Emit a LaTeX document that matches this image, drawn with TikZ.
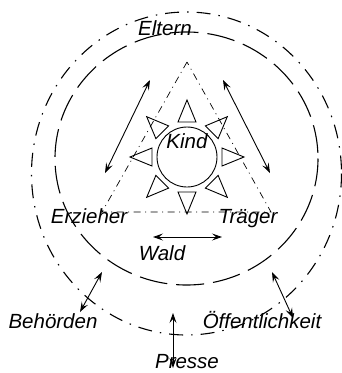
\documentclass[tikz,border=0pt]{standalone}
\usepackage{fontspec}
\setmainfont{Liberation Sans}
\usetikzlibrary{arrows.meta,calc}
\tikzset{
  lbl/.style={
    font=\fontsize{20.5}{24}\selectfont\itshape,
    inner sep=0pt,
    anchor=base
  },
  outerring/.style={line width=1.1pt,dash pattern=on 14pt off 8pt on 1.5pt off 8pt},
  innerring/.style={line width=1.1pt,dash pattern=on 28pt off 9pt},
  triline/.style={line width=0.7pt,dash pattern=on 7pt off 4.5pt on 1pt off 4.5pt},
  sun/.style={draw,circle,minimum size=60pt,inner sep=0pt,line width=0.9pt},
  ray/.style={line width=0.9pt,line join=miter},
  rel/.style={{Stealth[length=10pt,width=7pt,inset=4pt]}-{Stealth[length=10pt,width=7pt,inset=4pt]},line width=0.9pt}
}

\begin{document}
\begin{tikzpicture}[x=1pt,y=-1pt]
  \useasboundingbox (0,0) rectangle (342,373);
  % rings
  \draw[outerring] (186.5,173.5) ellipse [x radius=155, y radius=161.5];
  \draw[innerring] (186.5,158.5) ellipse [x radius=131.5, y radius=126.5];
  % triangle
  \coordinate (apex) at (187,62);
  \coordinate (baseL) at (102,212);
  \coordinate (baseR) at (271,212);
  \draw[triline] (apex) -- (baseL) -- (baseR) -- cycle;
  % child with rays
  \node[sun] (kind) at (187,157) {};
  \foreach \a in {0,45,...,315}
    \draw[ray] ($(kind.center)+(\a:35)+(\a+90:9)$) -- ($(kind.center)+(\a:57)$)
      -- ($(kind.center)+(\a:35)+(\a-90:9)$) -- cycle;
  % labels
  \node[lbl] (eltern) at (165,35) {Eltern};
  \node[lbl] (kindtxt) at (187,148) {Kind};
  \node[lbl] (erzieher) at (89,223) {Erzieher};
  \node[lbl] (traeger) at (248,223) {Träger};
  \node[lbl] (wald) at (162,260) {Wald};
  \node[lbl] (behoerden) at (53,328) {Behörden};
  \node[lbl] (oeffentl) at (262,328) {Öffentlichkeit};
  \node[lbl] (presse) at (187,368) {Presse};
  % arrow ends
  \coordinate (eltL) at (150,80);
  \coordinate (erzT) at (105,173);
  \coordinate (eltR) at (223,80);
  \coordinate (traT) at (270,173);
  \coordinate (waldL) at (153,237);
  \coordinate (waldR) at (222,237);
  \coordinate (behA) at (102,272);
  \coordinate (behB) at (80,312);
  \coordinate (oefA) at (272,272);
  \coordinate (oefB) at (293,318);
  \coordinate (preA) at (173,313);
  \coordinate (preB) at (173,368);
  \draw[rel] (eltL) -- (erzT);
  \draw[rel] (eltR) -- (traT);
  \draw[rel] (waldL) -- (waldR);
  \draw[rel] (behA) -- (behB);
  \draw[rel] (oefA) -- (oefB);
  \draw[rel] (preA) -- (preB);
\end{tikzpicture}
\end{document}
